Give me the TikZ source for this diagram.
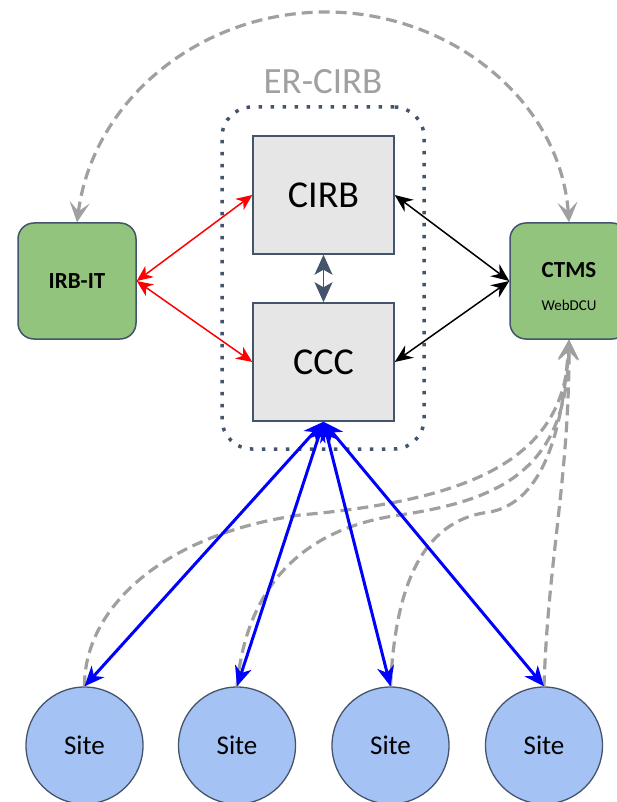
\documentclass[tikz,border=0pt]{standalone}
\usepackage{fontspec}
\setmainfont{Carlito}
\usetikzlibrary{arrows.meta,calc}
\definecolor{slate}{HTML}{44546A}
\definecolor{boxgreen}{HTML}{93C47D}
\definecolor{boxgrey}{HTML}{E7E6E6}
\definecolor{sitefill}{HTML}{A4C2F4}
\definecolor{dashgrey}{HTML}{A0A0A0}
\tikzset{
  sqbox/.style={draw=slate, line width=1.5pt, fill=boxgrey, minimum width=141pt, minimum height=118pt, inner sep=0pt, font=\fontsize{38}{40}\selectfont},
  greenbox/.style={draw=slate, line width=1.5pt, fill=boxgreen, rounded corners=16pt, minimum width=118pt, minimum height=116pt, inner sep=0pt},
  sitenode/.style={circle, draw=slate, line width=1.3pt, fill=sitefill, minimum size=117pt, inner sep=0pt, font=\fontsize{27}{29}\selectfont},
  framebox/.style={draw=slate, line width=3.5pt, line cap=butt, dash pattern=on 3.5pt off 8.5pt, rounded corners=30pt, minimum width=202pt, minimum height=342pt, inner sep=0pt},
  greydash/.style={draw=dashgrey, line width=3.2pt, dash pattern=on 11pt off 6pt},
  greyhead/.style={-{Stealth[length=20pt,width=20pt,inset=9pt,sep=0pt]}},
  redarrow/.style={draw=red, line width=1.5pt, {Stealth[length=16pt,width=14pt,inset=5pt]}-{Stealth[length=16pt,width=14pt,inset=5pt]}},
  blackarrow/.style={draw=black, line width=1.5pt, {Stealth[length=18pt,width=15pt,inset=6pt]}-{Stealth[length=18pt,width=15pt,inset=6pt]}},
  bluearrow/.style={draw=blue, line width=3pt, {Stealth[length=20pt,width=17pt,inset=6pt]}-{Stealth[length=20pt,width=17pt,inset=6pt]}},
  slatearrow/.style={draw=slate, line width=1.5pt, {Stealth[length=20pt,width=18pt,inset=5pt]}-{Stealth[length=20pt,width=18pt,inset=5pt]}}
}
\begin{document}
\begin{tikzpicture}[x=1pt,y=-1pt]
\useasboundingbox (0,0) rectangle (616,802);
% frame and label
\node[framebox] (frame) at (323,278) {};
\node[text=dashgrey, font=\fontsize{37}{39}\selectfont] (erlabel) at (323,82) {ER-CIRB};
% boxes
\node[sqbox] (cirb) at (323.5,195) {CIRB};
\node[sqbox] (ccc) at (323.5,362) {CCC};
\node[greenbox, font=\bfseries\fontsize{23}{25}\selectfont] (irb) at (77,281) {IRB-IT};
\node[greenbox] (ctms) at (569,281) {};
\node[font=\bfseries\fontsize{23}{25}\selectfont] (ctmst) at (569,270) {CTMS};
\node[font=\fontsize{15}{17}\selectfont] (webdcu) at (569,305) {WebDCU};
% sites
\node[sitenode] (s1) at (84.5,745.5) {Site};
\node[sitenode] (s2) at (237,745.5) {Site};
\node[sitenode] (s3) at (390.5,745.5) {Site};
\node[sitenode] (s4) at (544,745.5) {Site};
% top arc
\draw[greydash, {Stealth[length=20pt,width=20pt,inset=9pt]}-{Stealth[length=20pt,width=20pt,inset=9pt]}]
  (irb.north) .. controls (93,100) and (200,12) .. (326,12)
  .. controls (450,12) and (560,100) .. (ctms.north);
% grey dashed from sites to CTMS
\draw[greydash, greyhead] (s1.north) .. controls (84,610) and (160,535) .. (300,515)
  .. controls (470,500) and (565,460) .. (ctms.south);
\draw[greydash, greyhead] (s2.north) .. controls (245,600) and (290,530) .. (400,515)
  .. controls (500,500) and (567,470) .. (ctms.south);
\draw[greydash, greyhead] (s3.north) .. controls (395,590) and (420,520) .. (490,512)
  .. controls (525,505) and (560,470) .. (ctms.south);
\draw[greydash, greyhead] (s4.north) .. controls (548,560) and (569,480) .. (ctms.south);
% red
\draw[redarrow] (irb.east) -- (cirb.west);
\draw[redarrow] (irb.east) -- (ccc.west);
% black
\draw[blackarrow] (cirb.east) -- (ctms.west);
\draw[blackarrow] (ccc.east) -- (ctms.west);
% slate
\draw[slatearrow] (cirb.south) -- (ccc.north);
% blue
\draw[bluearrow] (ccc.south) -- (s1.north);
\draw[bluearrow] (ccc.south) -- (s2.north);
\draw[bluearrow] (ccc.south) -- (s3.north);
\draw[bluearrow] (ccc.south) -- (s4.north);
\end{tikzpicture}
\end{document}
